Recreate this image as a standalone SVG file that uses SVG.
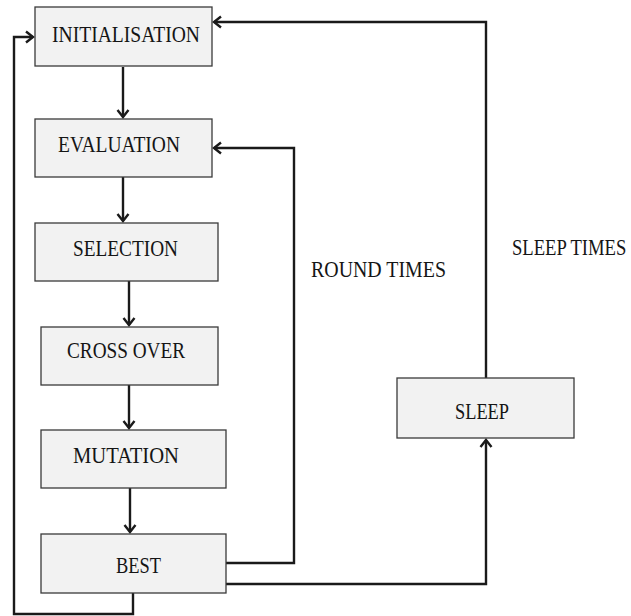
<svg xmlns="http://www.w3.org/2000/svg" width="631" height="616" viewBox="0 0 631 616">
<style>
.box{fill:#f2f2f2;stroke:#3a3a3a;stroke-width:1.3}
.lbl{font-family:"Liberation Serif","Times New Roman",serif;font-size:23px;fill:#151515}
.con{fill:none;stroke:#1a1a1a;stroke-width:2.4}
</style>
<defs>
<marker id="ah" markerUnits="userSpaceOnUse" viewBox="-10 -8 12 16" refX="0" refY="0" markerWidth="12" markerHeight="16" orient="auto">
<path d="M-7,-5.5 L0,0 L-7,5.5" fill="none" stroke="#1a1a1a" stroke-width="2.4"/>
</marker>
</defs>
<rect width="631" height="616" fill="#ffffff"/>
<g id="connectors">
<path class="con" d="M123,67 V117" marker-end="url(#ah)"/>
<path class="con" d="M123,177 V221" marker-end="url(#ah)"/>
<path class="con" d="M129,281 V325" marker-end="url(#ah)"/>
<path class="con" d="M129,385 V428" marker-end="url(#ah)"/>
<path class="con" d="M130,488 V532" marker-end="url(#ah)"/>
<path class="con" d="M226,563 H294 V148 H214" marker-end="url(#ah)"/>
<path class="con" d="M226,584 H486 V440" marker-end="url(#ah)"/>
<path class="con" d="M486,378 V22 H214" marker-end="url(#ah)"/>
<path class="con" d="M133,593 V614 H14 V37 H33" marker-end="url(#ah)"/>
</g>
<g id="initialisation"><rect class="box" x="35" y="7" width="177" height="59"/><text class="lbl" x="52" y="42" textLength="148" lengthAdjust="spacingAndGlyphs">INITIALISATION</text></g>
<g id="evaluation"><rect class="box" x="35" y="119" width="177" height="58"/><text class="lbl" x="58" y="152" textLength="122" lengthAdjust="spacingAndGlyphs">EVALUATION</text></g>
<g id="selection"><rect class="box" x="35" y="223" width="183" height="58"/><text class="lbl" x="73" y="256" textLength="105" lengthAdjust="spacingAndGlyphs">SELECTION</text></g>
<g id="crossover"><rect class="box" x="41" y="327" width="177" height="58"/><text class="lbl" x="67" y="358" textLength="118" lengthAdjust="spacingAndGlyphs">CROSS OVER</text></g>
<g id="mutation"><rect class="box" x="41" y="430" width="185" height="58"/><text class="lbl" x="73" y="463" textLength="106" lengthAdjust="spacingAndGlyphs">MUTATION</text></g>
<g id="best"><rect class="box" x="41" y="534" width="185" height="59"/><text class="lbl" x="116" y="573" textLength="45" lengthAdjust="spacingAndGlyphs">BEST</text></g>
<g id="sleep"><rect class="box" x="397" y="378" width="177" height="60"/><text class="lbl" x="455" y="419" textLength="54" lengthAdjust="spacingAndGlyphs">SLEEP</text></g>
<g id="labels">
<text class="lbl" x="311" y="277" textLength="135" lengthAdjust="spacingAndGlyphs">ROUND TIMES</text>
<text class="lbl" transform="translate(512,255) scale(0.81,1)" x="0" y="0">SLEEP TIMES</text>
</g>
</svg>
